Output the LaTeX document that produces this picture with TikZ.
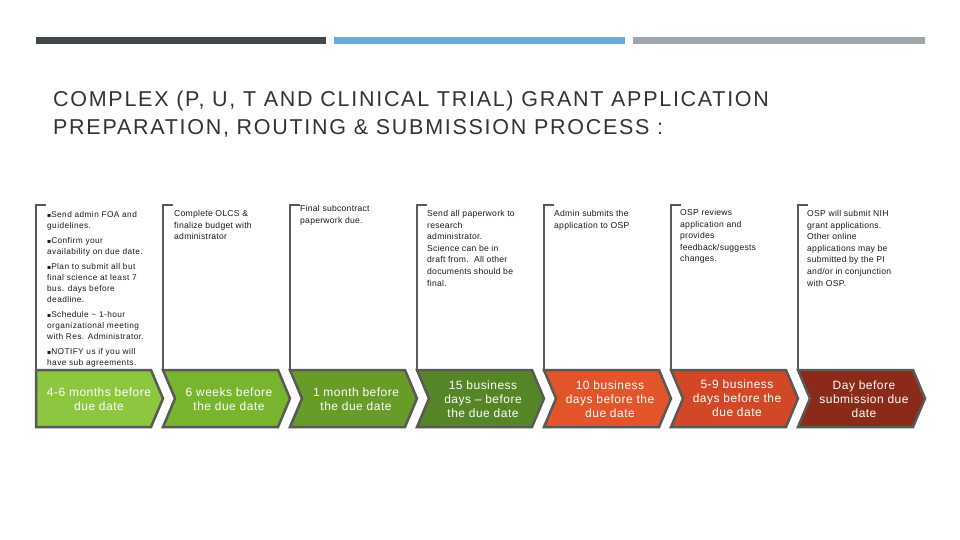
\documentclass[tikz,border=0pt]{standalone}
\usepackage{fontspec}
\usepackage[none]{hyphenat}
\setmainfont{Liberation Sans}
\newfontfamily\djv{DejaVu Sans}
\newcommand{\sqb}{{\djv\fontsize{6}{6}\selectfont ▪}}
\begin{document}
\begin{tikzpicture}[x=1pt,y=-1pt,
  chev/.style={draw=black!65,line width=2.5pt,line join=miter},
  brk/.style={draw=black!65,line width=2.5pt},
  desc/.style={anchor=north west,align=left,font=\fontsize{8.6}{11.6}\selectfont\addfontfeature{LetterSpace=3},inner sep=0pt,text=black!90},
  ctext/.style={text=white,align=center,font=\fontsize{12}{14}\selectfont\addfontfeature{LetterSpace=4}}]
\definecolor{c1}{RGB}{141,198,63}
\definecolor{c2}{RGB}{120,180,45}
\definecolor{c3}{RGB}{104,155,40}
\definecolor{c4}{RGB}{86,133,38}
\definecolor{c5}{RGB}{228,84,42}
\definecolor{c6}{RGB}{210,72,38}
\definecolor{c7}{RGB}{140,42,26}
\definecolor{bar1}{RGB}{64,72,76}
\definecolor{bar2}{RGB}{98,174,224}
\definecolor{bar3}{RGB}{160,166,170}
\useasboundingbox (0,0) rectangle (960,540);
\fill[white] (0,0) rectangle (960,540);
\fill[bar1] (36,37) rectangle (326,44);
\fill[bar2] (334,37) rectangle (625,44);
\fill[bar3] (633,37) rectangle (925,44);
\node[anchor=north west,align=left,text=black!80,font=\fontsize{21.5}{28}\selectfont\addfontfeature{LetterSpace=8},inner sep=0pt] (title) at (53,91)
 {COMPLEX (P, U, T AND CLINICAL TRIAL) GRANT APPLICATION\\PREPARATION, ROUTING \& SUBMISSION PROCESS :};
% brackets
\foreach \x in {36,163,290,417,544,671,798}{
  \draw[brk] (\x+10,205) -- (\x,205) -- (\x,372);
}
% chevrons
\draw[chev,fill=c1] (36,370) -- (151,370) -- (163,398.5) -- (151,427) -- (36,427) -- cycle;
\foreach \x/\c in {163/c2,290/c3,417/c4,544/c5,671/c6,798/c7}{
  \draw[chev,fill=\c] (\x,370) -- (\x+115,370) -- (\x+127,398.5) -- (\x+115,427) -- (\x,427) -- (\x+12,398.5) -- cycle;
}
\node[ctext] (k1) at (99,399) {4-6 months before\\due date};
\node[ctext] (k2) at (229,399) {6 weeks before\\the due date};
\node[ctext] (k3) at (356,399) {1 month before\\the due date};
\node[ctext] (k4) at (483,399) {15 business\\days -- before\\the due date};
\node[ctext] (k5) at (610,399) {10 business\\days before the\\due date};
\node[ctext] (k6) at (737,398) {5-9 business\\days before the\\due date};
\node[ctext] (k7) at (864,399) {Day before\\submission due\\date};
\node[desc,font=\fontsize{8.3}{11}\selectfont\addfontfeature{LetterSpace=5}] (d1) at (47,211) {%
\sqb Send admin FOA and\\guidelines.\\[4pt]
\sqb Confirm your\\availability on due date.\\[4pt]
\sqb Plan to submit all but\\final science at least 7\\bus. days before\\deadline.\\[4pt]
\sqb Schedule \textasciitilde{} 1-hour\\organizational meeting\\with Res. Administrator.\\[4pt]
\sqb NOTIFY us if you will\\have sub agreements.};
\node[desc] (d2) at (174,210) {Complete OLCS \&\\finalize budget with\\administrator};
\node[desc] (d3) at (300,205) {Final subcontract\\paperwork due.};
\node[desc] (d4) at (427,210) {Send all paperwork to\\research\\administrator.\\Science can be in\\draft from.\ \ All other\\documents should be\\final.};
\node[desc] (d5) at (554,210) {Admin submits the\\application to OSP};
\node[desc] (d6) at (680,209) {OSP reviews\\application and\\provides\\feedback/suggests\\changes.};
\node[desc] (d7) at (807,210) {OSP will submit NIH\\grant applications.\\Other online\\applications may be\\submitted by the PI\\and/or in conjunction\\with OSP.};
\end{tikzpicture}
\end{document}
